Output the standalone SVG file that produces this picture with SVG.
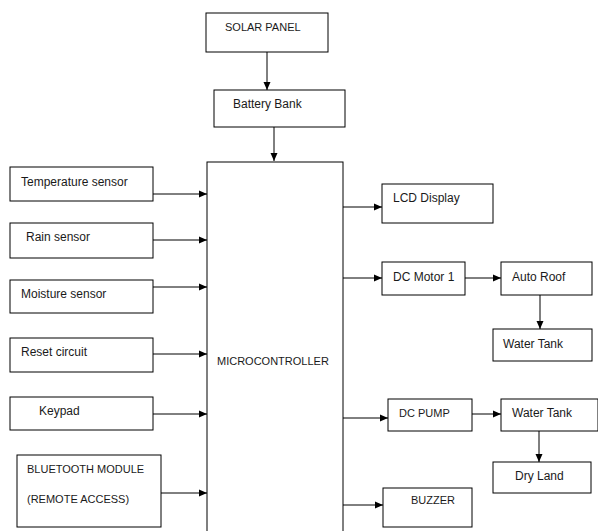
<svg xmlns="http://www.w3.org/2000/svg" width="598" height="531" viewBox="0 0 598 531">
<style>
rect{fill:#fff;stroke:#000;stroke-width:1}
text{font-family:"Liberation Sans",Arial,sans-serif;font-size:12px;fill:#1a1a1a}
text.u{font-size:11px}
.c line{stroke:#000;stroke-width:1;marker-end:url(#a)}
</style>
<defs>
<marker id="a" viewBox="0 0 8 8" refX="8" refY="4" markerWidth="8" markerHeight="8" markerUnits="userSpaceOnUse" orient="auto">
<path d="M0,0.5 L8,4 L0,7.5 Z" fill="#000"/>
</marker>
</defs>
<rect x="0" y="0" width="598" height="531" style="stroke:none"/>
<g id="solar"><rect x="206" y="13" width="122" height="39"/><text class="u" x="225" y="31">SOLAR PANEL</text></g>
<g id="battery"><rect x="214" y="90" width="131" height="37"/><text x="233" y="108">Battery Bank</text></g>
<g id="mcu"><rect x="207" y="162" width="136" height="380"/><text class="u" x="217" y="365">MICROCONTROLLER</text></g>
<g id="temp"><rect x="10" y="167" width="143" height="34"/><text x="21" y="186">Temperature sensor</text></g>
<g id="rain"><rect x="10" y="223" width="143" height="35"/><text x="26" y="241">Rain sensor</text></g>
<g id="moist"><rect x="10" y="280" width="143" height="33"/><text x="21" y="298">Moisture sensor</text></g>
<g id="reset"><rect x="10" y="338" width="143" height="34"/><text x="21" y="356">Reset circuit</text></g>
<g id="keypad"><rect x="10" y="397" width="143" height="33"/><text x="39" y="415">Keypad</text></g>
<g id="bt"><rect x="17" y="455" width="144" height="72"/><text class="u" x="27" y="473">BLUETOOTH MODULE</text><text class="u" x="27" y="503">(REMOTE ACCESS)</text></g>
<g id="lcd"><rect x="382" y="184" width="111" height="39"/><text x="393" y="202">LCD Display</text></g>
<g id="motor"><rect x="382" y="262" width="83" height="33"/><text x="393" y="281">DC Motor 1</text></g>
<g id="roof"><rect x="501" y="262" width="91" height="33"/><text x="512" y="281">Auto Roof</text></g>
<g id="tank1"><rect x="493" y="329" width="99" height="32"/><text x="503" y="348">Water Tank</text></g>
<g id="pump"><rect x="388" y="399" width="84" height="32"/><text class="u" x="399" y="417">DC PUMP</text></g>
<g id="tank2"><rect x="501" y="399" width="97" height="32"/><text x="512" y="417">Water Tank</text></g>
<g id="dry"><rect x="493" y="462" width="98" height="31"/><text x="515" y="480">Dry Land</text></g>
<g id="buzzer"><rect x="383" y="488" width="89" height="39"/><text class="u" x="411" y="504">BUZZER</text></g>
<g class="c" id="connectors">
<line x1="267" y1="52" x2="267" y2="90"/>
<line x1="274" y1="127" x2="274" y2="161"/>
<line x1="153" y1="194" x2="207" y2="194"/>
<line x1="153" y1="240" x2="207" y2="240"/>
<line x1="153" y1="287" x2="207" y2="287"/>
<line x1="153" y1="354" x2="207" y2="354"/>
<line x1="153" y1="414" x2="207" y2="414"/>
<line x1="161" y1="493" x2="207" y2="493"/>
<line x1="343" y1="207" x2="382" y2="207"/>
<line x1="343" y1="278" x2="382" y2="278"/>
<line x1="465" y1="278" x2="501" y2="278"/>
<line x1="540" y1="295" x2="540" y2="329"/>
<line x1="343" y1="418" x2="388" y2="418"/>
<line x1="472" y1="414" x2="501" y2="414"/>
<line x1="539" y1="431" x2="539" y2="462"/>
<line x1="343" y1="505" x2="383" y2="505"/>
</g>
</svg>
